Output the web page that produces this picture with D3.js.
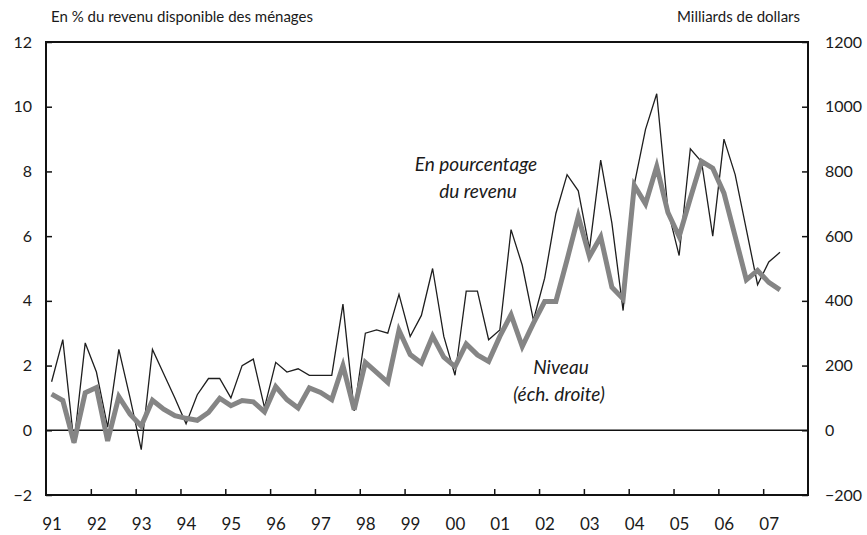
<!DOCTYPE html>
<html>
<head>
<meta charset="utf-8">
<script src="https://cdn.jsdelivr.net/npm/d3@7"></script>
<style>
  body { margin: 0; background: #fff; }
  text { font-family: Lato, "Open Sans", sans-serif; fill: #1a1a1a; }
</style>
</head>
<body>
<div id="chart"></div>
<script>
// quarterly, 1991Q1 .. 2007Q2
var firstYear = 1991;
var yearLabels = ["91","92","93","94","95","96","97","98","99","00","01","02","03","04","05","06","07"];

// En pourcentage du revenu (left axis)
var pctIncome = [1.5, 2.8, -0.4, 2.7, 1.8, 0.1, 2.5, 1.0, -0.6, 2.5, 1.75, 1.0,
                 0.2, 1.1, 1.6, 1.6, 1.0, 2.0, 2.2, 0.7, 2.1, 1.8, 1.9, 1.7,
                 1.7, 1.7, 3.9, 0.6, 3.0, 3.1, 3.0, 4.2, 2.9, 3.55, 5.0, 2.9,
                 1.7, 4.3, 4.3, 2.8, 3.1, 6.2, 5.1, 3.4, 4.7, 6.7, 7.9, 7.4,
                 5.6, 8.35, 6.4, 3.7, 7.6, 9.3, 10.4, 6.8, 5.4, 8.7, 8.3, 6.0,
                 9.0, 7.9, 6.2, 4.5, 5.2, 5.5];

// Niveau, milliards de dollars (right axis)
var levelBn = [112, 92, -38, 116, 132, -33, 104, 50, 13, 93, 65, 45,
               37, 31, 55, 99, 76, 92, 88, 57, 135, 95, 69, 131,
               117, 95, 200, 64, 210, 179, 148, 309, 234, 208, 291, 226,
               197, 267, 233, 213, 290, 357, 259, 331, 398, 398, 527, 661,
               537, 598, 442, 406, 757, 700, 815, 673, 599, 717, 831, 810,
               733, 599, 465, 494, 457, 434];

var leftTicks = [-2, 0, 2, 4, 6, 8, 10, 12];
var rightTicks = [-200, 0, 200, 400, 600, 800, 1000, 1200];

var W = 867, H = 535;
var plot = {left: 46, right: 808, top: 42, bottom: 495};

var svg = d3.select("#chart").append("svg")
    .attr("width", W)
    .attr("height", H);

var x = d3.scaleLinear()
    .domain([firstYear, firstYear + yearLabels.length])
    .range([plot.left, plot.right]);

var yL = d3.scaleLinear().domain([-2, 12]).range([plot.bottom, plot.top]);
var yR = d3.scaleLinear().domain([-200, 1200]).range([plot.bottom, plot.top]);

function qx(i) { return x(firstYear + (i + 0.5) / 4); }

// zero line
svg.append("line")
    .attr("x1", plot.left).attr("x2", plot.right)
    .attr("y1", yL(0)).attr("y2", yL(0))
    .style("stroke", "#111")
    .style("stroke-width", 1.5);

// left axis
var axL = svg.append("g")
    .attr("transform", "translate(" + plot.left + ",0)")
    .call(d3.axisRight(yL).tickValues(leftTicks).tickSize(6).tickFormat(d3.format("d")));
axL.selectAll("text")
    .attr("x", -14)
    .style("text-anchor", "end")
    .style("font-size", "16px");

// right axis
var axR = svg.append("g")
    .attr("transform", "translate(" + plot.right + ",0)")
    .call(d3.axisLeft(yR).tickValues(rightTicks).tickSize(6).tickFormat(d3.format("d")));
axR.selectAll("text")
    .attr("x", 17)
    .style("text-anchor", "start")
    .style("font-size", "16px");

// bottom axis
var yearTicks = d3.range(firstYear + 1, firstYear + yearLabels.length);
var axB = svg.append("g")
    .attr("transform", "translate(0," + plot.bottom + ")")
    .call(d3.axisTop(x).tickValues(yearTicks).tickSize(6).tickFormat(""));

svg.selectAll(".yearlabel")
    .data(yearLabels)
    .enter().append("text")
    .attr("class", "yearlabel")
    .attr("x", function(d, i) { return x(firstYear + i) + 6; })
    .attr("y", 530)
    .style("text-anchor", "middle")
    .style("font-size", "17px")
    .text(function(d) { return d; });

[axL, axR, axB].forEach(function(a) {
    a.select(".domain").remove();
    a.selectAll("line").style("stroke", "#111").style("stroke-width", 1.5);
    a.selectAll("text").style("fill", "#1a1a1a").style("font-family", "Lato, sans-serif");
});

// frame
svg.append("rect")
    .attr("x", plot.left).attr("y", plot.top)
    .attr("width", plot.right - plot.left)
    .attr("height", plot.bottom - plot.top)
    .style("fill", "none")
    .style("stroke", "#111")
    .style("stroke-width", 2);

// lines
var pctLine = d3.line()
    .x(function(d, i) { return qx(i); })
    .y(function(d) { return yL(d); });

var levelLine = d3.line()
    .x(function(d, i) { return qx(i); })
    .y(function(d) { return yR(d); });

svg.append("path")
    .datum(pctIncome)
    .attr("d", pctLine)
    .style("fill", "none")
    .style("stroke", "#1e1e1e")
    .style("stroke-width", 1.3)
    .style("stroke-linejoin", "miter");

svg.append("path")
    .datum(levelBn)
    .attr("d", levelLine)
    .style("fill", "none")
    .style("stroke", "#858585")
    .style("stroke-width", 5)
    .style("stroke-linejoin", "miter");

// titles
svg.append("text")
    .attr("x", 51).attr("y", 22)
    .style("font-size", "15px")
    .text("En % du revenu disponible des ménages");

svg.append("text")
    .attr("x", 800).attr("y", 22)
    .style("text-anchor", "end")
    .style("font-size", "15px")
    .text("Milliards de dollars");

// series labels
var labels = [
    {t: "En pourcentage", x: 476, y: 171},
    {t: "du revenu", x: 478, y: 198},
    {t: "Niveau", x: 561, y: 374},
    {t: "(éch. droite)", x: 559, y: 401}
];
svg.selectAll(".serieslabel")
    .data(labels)
    .enter().append("text")
    .attr("class", "serieslabel")
    .attr("x", function(d) { return d.x; })
    .attr("y", function(d) { return d.y; })
    .style("text-anchor", "middle")
    .style("font-style", "italic")
    .style("font-size", "19px")
    .text(function(d) { return d.t; });
</script>
</body>
</html>
